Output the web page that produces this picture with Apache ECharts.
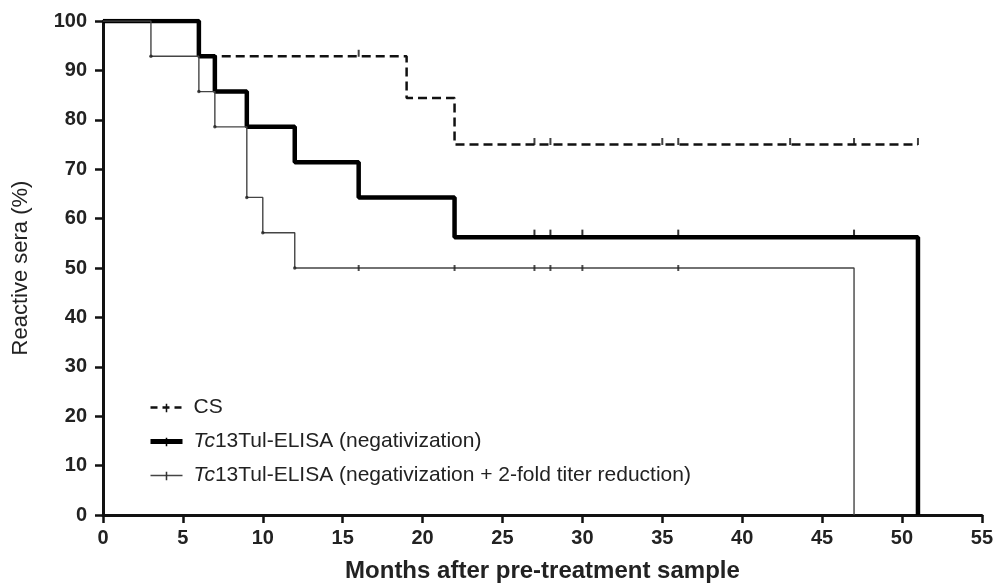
<!DOCTYPE html>
<html>
<head>
<meta charset="utf-8">
<title>Reactive sera</title>
<script src="https://cdn.jsdelivr.net/npm/echarts@6/dist/echarts.min.js"></script>
<style>
  html, body { margin: 0; padding: 0; background: #fff; }
  #main { width: 996px; height: 588px; }
</style>
</head>
<body>
<div id="main"></div>
<script type="text/javascript">
// Kaplan-Meier steps: [month, % reactive] (drop happens at the given month)
var csSteps    = [[0, 100], [6, 92.86], [19, 84.42], [22, 75.0], [51, 75.0]];
var negSteps   = [[0, 100], [6, 92.86], [7, 85.71], [9, 78.57], [12, 71.43], [16, 64.29], [22, 56.25], [51, 56.25], [51, 0]];
var foldSteps  = [[0, 100], [3, 92.86], [6, 85.71], [7, 78.57], [9, 64.29], [10, 57.14], [12, 50.0], [47, 50.0], [47, 0]];

// censored observations
var csCensor   = [[16, 92.86], [27, 75], [28, 75], [35, 75], [36, 75], [43, 75], [47, 75], [51, 75]];
var negCensor  = [[27, 56.25], [28, 56.25], [30, 56.25], [36, 56.25], [47, 56.25]];
var foldCensor = [[16, 50], [22, 50], [27, 50], [28, 50], [30, 50], [36, 50]];

var xTicks = [0, 55, 5];
var yTicks = [0, 100, 10];

var seriesNames = ['CS', 'Tc13Tul-ELISA (negativization)', 'Tc13Tul-ELISA (negativization + 2-fold titer reduction)'];

var myChart = echarts.init(document.getElementById('main'));

var font = 'Liberation Sans, Arial, sans-serif';
// square box with a thin vertical bar in the middle (legend tick)
var tick = 'path://M0,0L10,0L10,0.01L0,0.01Z M4.2,1L5.8,1L5.8,10L4.2,10Z';

var option = {
  animation: false,
  grid: { left: 103, right: 12, top: 21, bottom: 69 },
  legend: {
    data: [
      { name: seriesNames[0], lineStyle: { width: 2.5, type: [7, 5] } },
      { name: seriesNames[1], lineStyle: { width: 5 } },
      { name: seriesNames[2], lineStyle: { width: 1.4 } }
    ],
    orient: 'vertical',
    left: 143,
    top: 392,
    itemGap: 13,
    itemWidth: 32,
    itemHeight: 12,
    textStyle: {
      fontFamily: font,
      fontSize: 21,
      color: '#222',
      padding: [0, 0, 0, 6],
      rich: { i: { fontStyle: 'italic', fontSize: 21, fontFamily: font, color: '#222' } }
    },
    formatter: function (name) {
      if (name.indexOf('Tc') == 0) return '{i|Tc}' + name.slice(2);
      return name;
    }
  },
  xAxis: {
    type: 'value',
    min: xTicks[0], max: xTicks[1], interval: xTicks[2],
    name: 'Months after pre-treatment sample',
    nameLocation: 'middle',
    nameGap: 44,
    nameTextStyle: { fontFamily: font, fontSize: 24, fontWeight: 'bold', color: '#222' },
    axisLine: { show: true, onZero: false, lineStyle: { color: '#111', width: 3 } },
    axisTick: { show: true, length: 8, lineStyle: { color: '#111', width: 2.5 } },
    axisLabel: { margin: 13, fontFamily: font, fontSize: 20, fontWeight: 'bold', color: '#222' },
    splitLine: { show: false }
  },
  yAxis: {
    type: 'value',
    min: yTicks[0], max: yTicks[1], interval: yTicks[2],
    name: 'Reactive sera (%)',
    nameLocation: 'middle',
    nameGap: 71,
    nameRotate: 90,
    nameTextStyle: { fontFamily: font, fontSize: 22, color: '#222' },
    axisLine: { show: true, lineStyle: { color: '#111', width: 3 } },
    axisTick: { show: true, length: 8, lineStyle: { color: '#111', width: 2.5 } },
    axisLabel: { margin: 16, fontFamily: font, fontSize: 20, fontWeight: 'bold', color: '#222' },
    splitLine: { show: false }
  },
  series: [
    {
      name: seriesNames[0], type: 'line', step: 'end', data: csSteps,
      symbol: tick, showSymbol: false, z: 3,
      itemStyle: { color: '#111' },
      lineStyle: { color: '#111', width: 2.5, type: [9, 5] }
    },
    {
      name: seriesNames[1], type: 'line', step: 'end', data: negSteps,
      symbol: tick, showSymbol: false, z: 4,
      itemStyle: { color: '#000' },
      lineStyle: { color: '#000', width: 4.5 }
    },
    {
      name: seriesNames[2], type: 'line', step: 'end', data: foldSteps,
      symbol: tick, showSymbol: false, z: 5,
      itemStyle: { color: '#333' },
      lineStyle: { color: '#444', width: 1.4 }
    },
    // small dots at the corners of the thin curve
    {
      type: 'scatter', data: foldSteps.slice(1, -2), symbol: 'circle', symbolSize: 3.5,
      itemStyle: { color: '#222' }, z: 6, silent: true
    },
    {
      type: 'scatter', data: csCensor, symbol: 'rect', symbolSize: [2, 7], symbolOffset: [0, -3],
      itemStyle: { color: '#111' }, z: 6, silent: true
    },
    {
      type: 'scatter', data: negCensor, symbol: 'rect', symbolSize: [2, 7], symbolOffset: [0, -4],
      itemStyle: { color: '#000' }, z: 6, silent: true
    },
    {
      type: 'scatter', data: foldCensor, symbol: 'rect', symbolSize: [2, 6], symbolOffset: [0, 0],
      itemStyle: { color: '#222' }, z: 6, silent: true
    }
  ]
};
myChart.setOption(option);
</script>
</body>
</html>
